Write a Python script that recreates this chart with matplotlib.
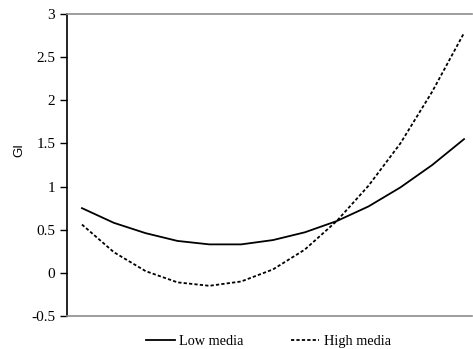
import matplotlib
matplotlib.use("Agg")
import matplotlib.pyplot as plt
import numpy as np

x_points = list(range(13))
low_media = [0.75, 0.58, 0.46, 0.37, 0.33, 0.33, 0.38, 0.47, 0.60, 0.77, 0.99, 1.25, 1.55]
high_media = [0.56, 0.24, 0.02, -0.11, -0.15, -0.10, 0.04, 0.27, 0.60, 1.01, 1.50, 2.10, 2.78]
yticks = [-0.5, 0, 0.5, 1, 1.5, 2, 2.5, 3]
ytick_labels = ["-0.5", "0", "0.5", "1", "1.5", "2", "2.5", "3"]

fig = plt.figure(figsize=(4.73, 3.49), dpi=100)
ax = fig.add_axes([67/473, 33/349, (472-67)/473, (316-14)/349])

ax.plot(x_points, low_media, color="black", lw=1.3, label="Low media")
ax.plot(x_points, high_media, color="black", lw=1.3, dashes=(1.8, 1.2), label="High media")

ax.set_xlim(-0.47, 12.25)
ax.set_ylim(-0.5, 3)
ax.set_yticks(yticks)
ax.set_yticklabels(ytick_labels, fontfamily="Liberation Serif", fontsize=11)
ax.set_xticks([])
ax.tick_params(axis="y", direction="out", length=5, width=1, pad=3.5)
ax.set_ylabel("GI", fontfamily="Liberation Sans", fontsize=9.5)
ax.yaxis.set_label_coords((25-67)/405, (316-150)/302)

ax.spines["right"].set_visible(False)
ax.spines["left"].set_color("black")
ax.spines["left"].set_linewidth(1.2)
for s in ["top", "bottom"]:
    ax.spines[s].set_color("#8c8c8c")
    ax.spines[s].set_linewidth(1.2)

leg = fig.legend(loc="center", bbox_to_anchor=(268.5/473, 1 - 341/349), ncol=2, frameon=False,
                 prop={"family": "Liberation Serif", "size": 10.3},
                 handlelength=2.0, handletextpad=0.3, columnspacing=3.3)

fig.savefig("out.png", dpi=100)
